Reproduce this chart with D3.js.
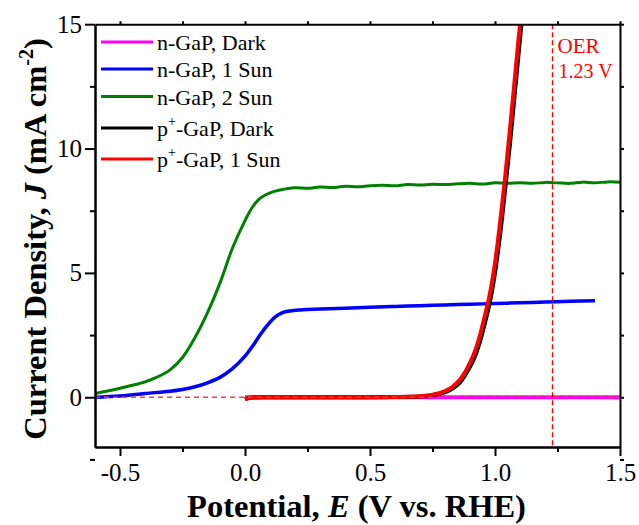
<!DOCTYPE html>
<html>
<head>
<meta charset="utf-8">
<script src="https://cdn.jsdelivr.net/npm/d3@7/dist/d3.min.js"></script>
<style>
  html, body { margin: 0; padding: 0; background: #fff; }
  svg { display: block; }
  text { font-family: "Liberation Serif", "Times New Roman", serif; }
</style>
</head>
<body>
<svg id="chart" width="639" height="525"></svg>
<script>
// ---- data ----
const greenE = [-0.6,-0.55,-0.5,-0.45,-0.4,-0.35,-0.3,-0.25,-0.2,-0.15,-0.1,-0.05,0,0.03,0.06,0.1,0.14,0.2,0.25,0.3,0.35,0.4,0.45,0.5,0.55,0.6,0.65,0.7,0.75,0.8,0.85,0.9,0.95,1.0,1.05,1.1,1.15,1.2,1.25,1.3,1.35,1.4,1.45,1.5];
const greenJ = [0.15,0.25,0.36,0.48,0.62,0.82,1.1,1.6,2.4,3.4,4.6,6.0,7.1,7.65,8.0,8.22,8.33,8.42,8.40,8.45,8.43,8.48,8.46,8.5,8.52,8.5,8.55,8.53,8.56,8.55,8.58,8.6,8.57,8.62,8.6,8.63,8.6,8.64,8.62,8.6,8.65,8.62,8.66,8.65];

const blueE = [-0.6,-0.5,-0.4,-0.3,-0.25,-0.2,-0.15,-0.1,-0.05,0,0.03,0.06,0.09,0.12,0.15,0.18,0.22,0.3,0.4,0.5,0.6,0.7,0.8,0.9,1.0,1.1,1.2,1.3,1.4];
const blueJ = [0.0,0.05,0.15,0.24,0.31,0.42,0.58,0.8,1.15,1.65,2.05,2.5,2.9,3.22,3.4,3.47,3.51,3.55,3.58,3.62,3.65,3.68,3.71,3.74,3.77,3.8,3.83,3.86,3.88];

const redE = [0,0.02,0.1,0.3,0.5,0.6,0.7,0.75,0.8,0.83,0.86,0.88,0.9,0.92,0.94,0.96,0.98,1.0,1.02,1.04,1.06,1.08,1.1];
const redJ = [-0.08,-0.02,0,0,0,0.01,0.04,0.1,0.25,0.42,0.71,1.0,1.38,1.85,2.5,3.3,4.19,5.4,7.0,8.8,10.8,12.9,15.0];

const blackE = [0,0.02,0.1,0.3,0.5,0.6,0.7,0.75,0.8,0.83,0.86,0.88,0.9,0.92,0.94,0.96,0.98,1.0,1.02,1.04,1.06,1.08,1.1,1.12];
const blackJ = [-0.08,-0.02,0,0,0,0.01,0.03,0.08,0.2,0.35,0.6,0.88,1.22,1.65,2.25,3.0,3.85,5.0,6.5,8.3,10.2,12.3,14.4,16.5];

const darkE = [0, 1.5];
const darkJ = [0, 0];

const series = [
  {name: "n-GaP, Dark", sup: null, E: darkE, J: darkJ, color: "#ff00ff", w: 4},
  {name: "n-GaP, 1 Sun", sup: null, E: blueE, J: blueJ, color: "#0000ff", w: 3.5},
  {name: "n-GaP, 2 Sun", sup: null, E: greenE, J: greenJ, color: "#008000", w: 3},
  {name: "p+-GaP, Dark", sup: "+", E: blackE, J: blackJ, color: "#000000", w: 4},
  {name: "p+-GaP, 1 Sun", sup: "+", E: redE, J: redJ, color: "#ff0000", w: 4}
];

const xTicks = [-0.5, 0, 0.5, 1.0, 1.5];
const xMinor = [-0.25, 0.25, 0.75, 1.25];
const yTicks = [0, 5, 10, 15];
const yMinor = [-2.5, 2.5, 7.5, 12.5];
const oerE = 1.23;

// ---- layout ----
const svg = d3.select("#chart");
const L = 95, R = 620, T = 24.2, B = 447;
const x = d3.scaleLinear().domain([-0.6, 1.5]).range([L, R]);
const y = d3.scaleLinear().domain([-2, 15]).range([B, T]);

svg.append("defs").append("clipPath").attr("id", "clip")
  .append("rect").attr("x", L).attr("y", T).attr("width", R - L).attr("height", B - T);

const plot = svg.append("g").attr("clip-path", "url(#clip)");
const line = d3.line().x(d => x(d[0])).y(d => y(d[1])).curve(d3.curveCatmullRom.alpha(0.5));

// draw order: green, blue, magenta, black, red
const order = [2, 1, 0, 3, 4];
order.forEach(i => {
  const s = series[i];
  plot.append("path")
    .datum(s.E.map((e, k) => [e, s.J[k]]))
    .attr("d", line)
    .attr("fill", "none")
    .attr("stroke", s.color)
    .attr("stroke-width", s.w)
    .attr("stroke-linejoin", "round");
});

// reference dashed lines
plot.append("line")
  .attr("x1", x(-0.6)).attr("x2", x(1.5))
  .attr("y1", y(0)).attr("y2", y(0))
  .attr("stroke", "#ff3b3b").attr("stroke-width", 1.3)
  .attr("stroke-dasharray", "5,4");
plot.append("line")
  .attr("x1", x(oerE)).attr("x2", x(oerE))
  .attr("y1", y(15)).attr("y2", y(-2))
  .attr("stroke", "#ff0000").attr("stroke-width", 1.3)
  .attr("stroke-dasharray", "5,3");

svg.append("text").attr("x", x(oerE) + 5).attr("y", 53)
  .attr("fill", "#ff0000").attr("font-size", 21).text("OER");
svg.append("text").attr("x", x(oerE) + 6).attr("y", 78)
  .attr("fill", "#ff0000").attr("font-size", 20).text("1.23 V");

// ---- axes ----
const fmt = d => d.toFixed(1);
function styleAxis(g) {
  g.select(".domain").attr("stroke-width", 2).attr("stroke", "#000");
  g.selectAll(".tick line").attr("stroke-width", 2).attr("stroke", "#000");
  g.selectAll("text").attr("font-family", "Liberation Serif, Times New Roman, serif")
    .attr("font-size", 25).attr("fill", "#000");
}
const gx = svg.append("g").attr("transform", `translate(0,${B})`)
  .call(d3.axisBottom(x).tickValues(xTicks).tickFormat(fmt).tickSize(9).tickSizeOuter(0).tickPadding(7));
styleAxis(gx);
const gxm = svg.append("g").attr("transform", `translate(0,${B})`)
  .call(d3.axisBottom(x).tickValues(xMinor).tickFormat("").tickSize(5).tickSizeOuter(0));
styleAxis(gxm);

const gy = svg.append("g").attr("transform", `translate(${L},0)`)
  .call(d3.axisLeft(y).tickValues(yTicks).tickFormat(d => d).tickSize(10).tickSizeOuter(0).tickPadding(3));
styleAxis(gy);
const gym = svg.append("g").attr("transform", `translate(${L},0)`)
  .call(d3.axisLeft(y).tickValues(yMinor).tickFormat("").tickSize(5).tickSizeOuter(0));
styleAxis(gym);

const gt = svg.append("g").attr("transform", `translate(0,${T})`)
  .call(d3.axisTop(x).tickValues(xTicks.concat(xMinor)).tickFormat("").tickSize(3).tickSizeOuter(0));
styleAxis(gt);
const gr = svg.append("g").attr("transform", `translate(${R},0)`)
  .call(d3.axisRight(y).tickValues(yTicks.concat(yMinor)).tickFormat("").tickSize(4).tickSizeOuter(0));
styleAxis(gr);

// ---- axis titles ----
const xt = svg.append("text").attr("x", (L + R) / 2 - 1).attr("y", 517)
  .attr("text-anchor", "middle").attr("font-size", 32.5).attr("font-weight", "bold");
xt.append("tspan").text("Potential, ");
xt.append("tspan").attr("font-style", "italic").text("E");
xt.append("tspan").text(" (V vs. RHE)");

const yt = svg.append("text")
  .attr("transform", `translate(46,239) rotate(-90)`)
  .attr("text-anchor", "middle").attr("font-size", 32.5).attr("font-weight", "bold");
yt.append("tspan").text("Current Density, ");
yt.append("tspan").attr("font-style", "italic").text("J");
yt.append("tspan").text(" (mA cm");
yt.append("tspan").attr("font-size", 20).attr("dy", -13).text("-2");
yt.append("tspan").attr("dy", 13).text(")");

// ---- legend ----
const legY = [42, 69, 96.5, 128, 159];
series.forEach((s, i) => {
  const ly = legY[i];
  svg.append("line").attr("x1", 101).attr("x2", 153).attr("y1", ly).attr("y2", ly)
    .attr("stroke", s.color).attr("stroke-width", 3);
  const t = svg.append("text").attr("x", 157).attr("y", ly + 8).attr("font-size", 22);
  if (s.sup) {
    const parts = s.name.split(s.sup);
    t.append("tspan").text(parts[0]);
    t.append("tspan").attr("font-size", 14).attr("dy", -10).text(s.sup);
    t.append("tspan").attr("dy", 10).text(parts[1]);
  } else {
    t.text(s.name);
  }
});
</script>
</body>
</html>
